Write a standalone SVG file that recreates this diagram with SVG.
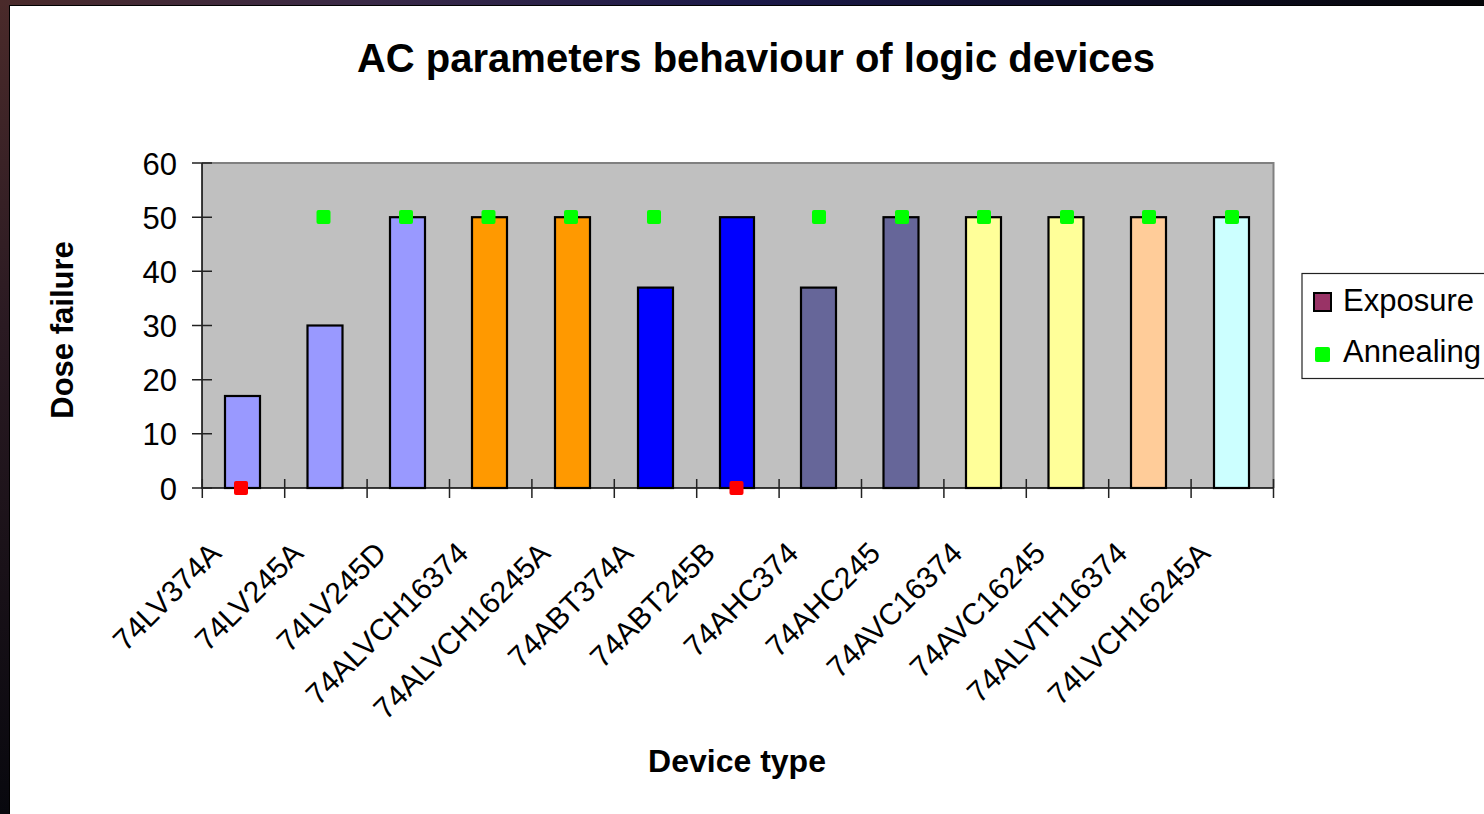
<svg xmlns="http://www.w3.org/2000/svg" width="1484" height="814" viewBox="0 0 1484 814">
  <defs>
    <linearGradient id="spaceTop" x1="0" y1="0" x2="1" y2="0">
      <stop offset="0" stop-color="#4a2a2a"/>
      <stop offset="0.25" stop-color="#3a2a48"/>
      <stop offset="0.5" stop-color="#1c1a4a"/>
      <stop offset="0.8" stop-color="#0c0c20"/>
      <stop offset="1" stop-color="#050508"/>
    </linearGradient>
    <linearGradient id="spaceLeft" x1="0" y1="0" x2="0" y2="1">
      <stop offset="0" stop-color="#4a2a2a"/>
      <stop offset="0.4" stop-color="#2a1a22"/>
      <stop offset="1" stop-color="#08080e"/>
    </linearGradient>
    <style>
      .lbl { font-family: "Liberation Sans", Arial, sans-serif; font-size: 31px; fill: #000; }
      .cat { font-family: "Liberation Sans", Arial, sans-serif; font-size: 30px; fill: #000; }
      .bold { font-family: "Liberation Sans", Arial, sans-serif; font-weight: bold; fill: #000; }
      .bar { stroke: #000; stroke-width: 2.2; }
      .tick { stroke: #222; stroke-width: 1.5; }
      .anneal { fill: #00ff00; }
      .expo { fill: #ff0000; }
    </style>
  </defs>

  <!-- slide background edges -->
  <rect x="0" y="0" width="1484" height="814" fill="url(#spaceLeft)"/>
  <rect x="0" y="0" width="1484" height="6" fill="url(#spaceTop)"/>
  <rect x="9.5" y="5.5" width="1480" height="820" fill="#ffffff" stroke="#000" stroke-width="1"/>

  <!-- title -->
  <text class="bold" x="756" y="72" font-size="40" text-anchor="middle">AC parameters behaviour of logic devices</text>

  <!-- plot area -->
  <g id="plot-area">
    <rect x="202" y="163" width="1071.5" height="325" fill="#c0c0c0"/>
    <path d="M202 163 H1273.5 V488" fill="none" stroke="#808080" stroke-width="2"/>
  </g>

  <!-- bars -->
  <g id="bars">
    <rect id="bar-74LV374A" class="bar" x="225" y="396" width="35" height="92" fill="#9999ff"/>
    <rect id="bar-74LV245A" class="bar" x="307.5" y="325.5" width="35" height="162.5" fill="#9999ff"/>
    <rect id="bar-74LV245D" class="bar" x="390" y="217.2" width="35" height="270.8" fill="#9999ff"/>
    <rect id="bar-74ALVCH16374" class="bar" x="472" y="217.2" width="35" height="270.8" fill="#ff9900"/>
    <rect id="bar-74ALVCH16245A" class="bar" x="555" y="217.2" width="35" height="270.8" fill="#ff9900"/>
    <rect id="bar-74ABT374A" class="bar" x="638" y="287.6" width="35" height="200.4" fill="#0000ff"/>
    <rect id="bar-74ABT245B" class="bar" x="720" y="217.2" width="34" height="270.8" fill="#0000ff"/>
    <rect id="bar-74AHC374" class="bar" x="801" y="287.6" width="35" height="200.4" fill="#666699"/>
    <rect id="bar-74AHC245" class="bar" x="883.5" y="217.2" width="35" height="270.8" fill="#666699"/>
    <rect id="bar-74AVC16374" class="bar" x="966" y="217.2" width="35" height="270.8" fill="#ffff99"/>
    <rect id="bar-74AVC16245" class="bar" x="1048.5" y="217.2" width="35" height="270.8" fill="#ffff99"/>
    <rect id="bar-74ALVTH16374" class="bar" x="1131" y="217.2" width="35" height="270.8" fill="#ffcc99"/>
    <rect id="bar-74LVCH16245A" class="bar" x="1214" y="217.2" width="35" height="270.8" fill="#ccffff"/>
  </g>

  <!-- axes and ticks -->
  <g id="axes">
    <line x1="202" y1="163" x2="202" y2="489" stroke="#000" stroke-width="1.5"/>
    <line x1="202" y1="488" x2="1274" y2="488" stroke="#000" stroke-width="1.5"/>
    <path class="tick" d="M192 163H212 M192 217.2H212 M192 271.3H212 M192 325.5H212 M192 379.7H212 M192 433.8H212 M192 488H212"/>
    <path class="tick" d="M202.3 479V498 M284.7 479V498 M367.1 479V498 M449.5 479V498 M531.9 479V498 M614.3 479V498 M696.7 479V498 M779.1 479V498 M861.5 479V498 M943.9 479V498 M1026.3 479V498 M1108.7 479V498 M1191.1 479V498 M1273.5 479V498"/>
  </g>

  <!-- series markers -->
  <g id="markers">
    <rect class="expo" x="234" y="481" width="14" height="14" rx="2"/>
    <rect class="expo" x="729.5" y="481" width="14" height="14" rx="2"/>
    <rect class="anneal" x="316.5" y="210" width="14" height="14" rx="2"/>
    <rect class="anneal" x="399" y="210" width="14" height="14" rx="2"/>
    <rect class="anneal" x="481.5" y="210" width="14" height="14" rx="2"/>
    <rect class="anneal" x="564" y="210" width="14" height="14" rx="2"/>
    <rect class="anneal" x="647" y="210" width="14" height="14" rx="2"/>
    <rect class="anneal" x="812" y="210" width="14" height="14" rx="2"/>
    <rect class="anneal" x="895" y="210" width="14" height="14" rx="2"/>
    <rect class="anneal" x="977" y="210" width="14" height="14" rx="2"/>
    <rect class="anneal" x="1060" y="210" width="14" height="14" rx="2"/>
    <rect class="anneal" x="1142" y="210" width="14" height="14" rx="2"/>
    <rect class="anneal" x="1225" y="210" width="14" height="14" rx="2"/>
  </g>

  <!-- value axis labels -->
  <g id="y-labels" text-anchor="end">
    <text class="lbl" x="177" y="174.5">60</text>
    <text class="lbl" x="177" y="228.5">50</text>
    <text class="lbl" x="177" y="282.5">40</text>
    <text class="lbl" x="177" y="336.5">30</text>
    <text class="lbl" x="177" y="391">20</text>
    <text class="lbl" x="177" y="445">10</text>
    <text class="lbl" x="177" y="499.5">0</text>
  </g>

  <!-- category labels -->
  <g id="x-labels" text-anchor="end">
    <text class="cat" transform="translate(223,555) rotate(-45)">74LV374A</text>
    <text class="cat" transform="translate(305,555) rotate(-45)">74LV245A</text>
    <text class="cat" transform="translate(388,555) rotate(-45)">74LV245D</text>
    <text class="cat" transform="translate(470,555) rotate(-45)">74ALVCH16374</text>
    <text class="cat" transform="translate(552,555) rotate(-45)">74ALVCH16245A</text>
    <text class="cat" transform="translate(635,555) rotate(-45)">74ABT374A</text>
    <text class="cat" transform="translate(717,555) rotate(-45)">74ABT245B</text>
    <text class="cat" transform="translate(800,555) rotate(-45)">74AHC374</text>
    <text class="cat" transform="translate(882,555) rotate(-45)">74AHC245</text>
    <text class="cat" transform="translate(964,555) rotate(-45)">74AVC16374</text>
    <text class="cat" transform="translate(1047,555) rotate(-45)">74AVC16245</text>
    <text class="cat" transform="translate(1129,555) rotate(-45)">74ALVTH16374</text>
    <text class="cat" transform="translate(1212,555) rotate(-45)">74LVCH16245A</text>
  </g>

  <!-- axis titles -->
  <text class="bold" font-size="31" text-anchor="middle" transform="translate(72.5,330) rotate(-90)">Dose failure</text>
  <text class="bold" font-size="32" x="737" y="772" text-anchor="middle">Device type</text>

  <!-- legend -->
  <g id="legend">
    <rect x="1302" y="273.5" width="200" height="105" fill="#ffffff" stroke="#222" stroke-width="1.2"/>
    <rect x="1314" y="293" width="17" height="18" fill="#993366" stroke="#000" stroke-width="2"/>
    <text class="lbl" x="1343" y="311" font-size="32">Exposure</text>
    <rect class="anneal" x="1315" y="347" width="15" height="15" rx="2"/>
    <text class="lbl" x="1343" y="362" font-size="32">Annealing</text>
  </g>
</svg>
